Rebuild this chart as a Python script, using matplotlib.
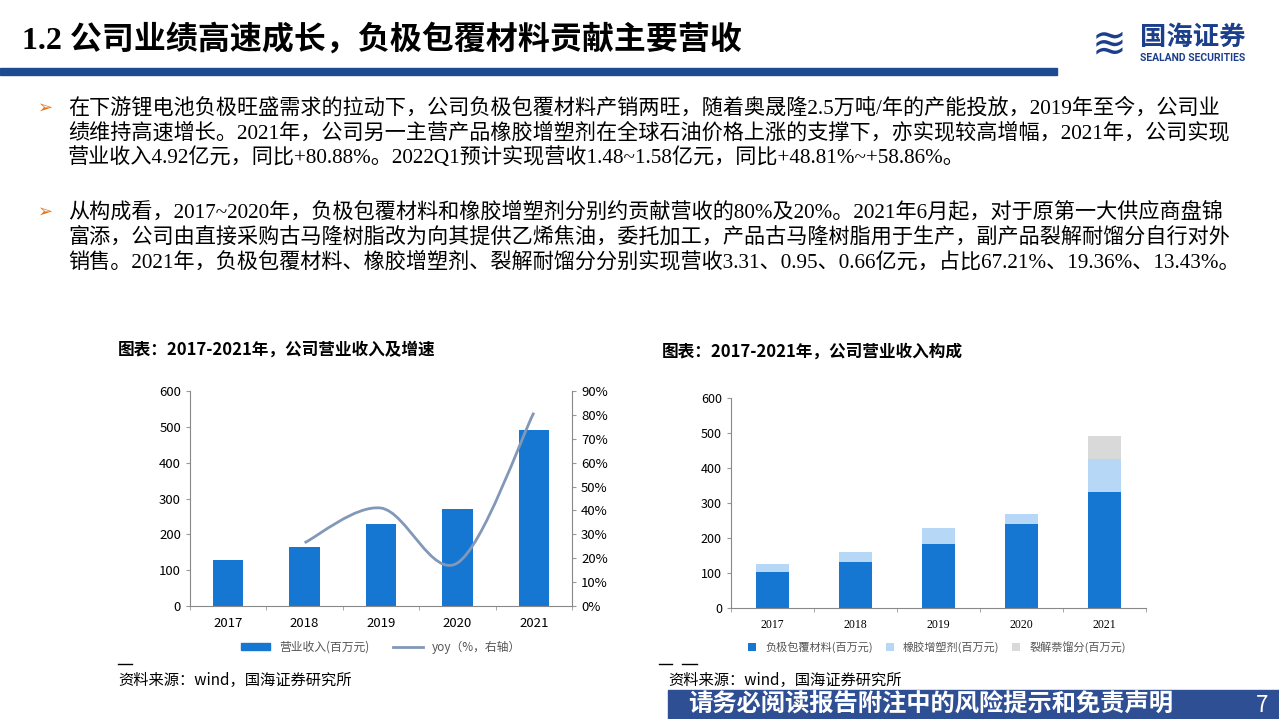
import numpy as np
import matplotlib.pyplot as plt
from matplotlib.path import Path
from matplotlib.patches import PathPatch, Rectangle

plt.rcParams['font.family'] = ['Noto Sans CJK SC', 'DejaVu Sans']

years = ['2017', '2018', '2019', '2020', '2021']
revenue = [129, 164, 230, 272, 492]
yoy_years = [1, 2, 3, 4]
yoy = [26.5, 41.0, 18.0, 80.9]
anode = [104, 132, 183, 240, 331]
rubber = [22, 28, 46, 30, 95]
cracking = [0, 0, 0, 0, 66]

W, H = 1279, 719
fig = plt.figure(figsize=(12.79, 7.19), dpi=100)
navy = '#1c3f8c'
serif_cjk = ['Liberation Serif', 'Noto Sans CJK SC']

def px(x, y):
    return x / W, 1 - y / H

# header
fig.text(*px(22, 40), '1.2 公司业绩高速成长，负极包覆材料贡献主要营收', fontsize=23, fontweight='bold',
         va='center', family=serif_cjk)
fig.add_artist(Rectangle(px(0, 75), 1057 / W, 7 / H, color='#1e4a92', transform=fig.transFigure))
fig.text(*px(1140, 37), '国海证券', fontsize=19, fontweight='bold', color=navy, va='center')
fig.text(*px(1140, 58), 'SEALAND SECURITIES', fontsize=7.5, fontweight='bold', color=navy, va='center',
         family=['Roboto', 'DejaVu Sans'])
fig.text(*px(1092, 44), '≋', fontsize=30, color=navy, va='center', family=['DejaVu Sans'])

para1 = ['在下游锂电池负极旺盛需求的拉动下，公司负极包覆材料产销两旺，随着奥晟隆2.5万吨/年的产能投放，2019年至今，公司业',
         '绩维持高速增长。2021年，公司另一主营产品橡胶增塑剂在全球石油价格上涨的支撑下，亦实现较高增幅，2021年，公司实现',
         '营业收入4.92亿元，同比+80.88%。2022Q1预计实现营收1.48~1.58亿元，同比+48.81%~+58.86%。']
para2 = ['从构成看，2017~2020年，负极包覆材料和橡胶增塑剂分别约贡献营收的80%及20%。2021年6月起，对于原第一大供应商盘锦',
         '富添，公司由直接采购古马隆树脂改为向其提供乙烯焦油，委托加工，产品古马隆树脂用于生产，副产品裂解耐馏分自行对外',
         '销售。2021年，负极包覆材料、橡胶增塑剂、裂解耐馏分分别实现营收3.31、0.95、0.66亿元，占比67.21%、19.36%、13.43%。']
for y0, para in [(108, para1), (212, para2)]:
    fig.text(*px(38, y0), '➢', fontsize=13, color='#e8731a', va='center', family=['DejaVu Sans'])
    for i, line in enumerate(para):
        fig.text(*px(68, y0 + 25 * i), line, fontsize=15.2, va='center', family=serif_cjk)

fig.text(*px(118, 350), '图表：2017-2021年，公司营业收入及增速', fontsize=12, fontweight='bold', va='center')
fig.text(*px(662, 352), '图表：2017-2021年，公司营业收入构成', fontsize=12, fontweight='bold', va='center')

# left chart
ax = fig.add_axes([190 / W, 1 - 606 / H, 382 / W, 215 / H])
x = np.arange(5)
ax.bar(x, revenue, width=0.4, color='#1677d2', label='营业收入(百万元)')
ax.set_ylim(0, 600)
ax.set_xlim(-0.5, 4.5)
ax.set_xticks(x, years)
ax.set_xticks(np.arange(-0.5, 5, 1), minor=True)
ax.tick_params(axis='x', which='major', length=0, labelsize=9.5, pad=8)
ax.tick_params(axis='x', which='minor', length=3, color='#999999')
ax.tick_params(axis='y', labelsize=9.5, length=3, color='#999999')
for s in ['top', 'right']:
    ax.spines[s].set_visible(False)
for s in ['left', 'bottom']:
    ax.spines[s].set_color('#888888')
ax2 = ax.twinx()
ax2.set_ylim(0, 90)
ax2.set_yticks(range(0, 91, 10), [f'{v}%' for v in range(0, 91, 10)])
ax2.tick_params(axis='y', labelsize=9.5, length=3, color='#999999')
for s in ['top', 'left', 'bottom']:
    ax2.spines[s].set_visible(False)
ax2.spines['right'].set_color('#888888')
# smooth line through yoy points (Catmull-Rom as Bezier)
pts = np.column_stack([yoy_years, yoy]).astype(float)
verts = [pts[0]]
codes = [Path.MOVETO]
for i in range(len(pts) - 1):
    p0 = pts[max(i - 1, 0)]
    p1, p2 = pts[i], pts[i + 1]
    p3 = pts[min(i + 2, len(pts) - 1)]
    verts += [p1 + (p2 - p0) / 6, p2 - (p3 - p1) / 6, p2]
    codes += [Path.CURVE4] * 3
ax2.add_patch(PathPatch(Path(verts, codes), fill=False, color='#8298b8', lw=2))
h1 = Rectangle((0, 0), 1, 1, color='#1677d2')
h2 = plt.Line2D([], [], color='#8298b8', lw=2)
fig.legend([h1, h2], ['营业收入(百万元)', 'yoy（%，右轴）'], loc='center', bbox_to_anchor=px(381, 647),
           ncol=2, frameon=False, fontsize=8.5, handlelength=2.5, handleheight=0.5, columnspacing=2,
           labelcolor='#555555')

# right chart
bx = fig.add_axes([731 / W, 1 - 608 / H, 415 / W, 210 / H])
bx.bar(x, anode, width=0.4, color='#1677d2', label='负极包覆材料(百万元)')
bx.bar(x, rubber, width=0.4, bottom=anode, color='#b7d7f7', label='橡胶增塑剂(百万元)')
bx.bar(x, cracking, width=0.4, bottom=np.add(anode, rubber), color='#d9d9d9', label='裂解萘馏分(百万元)')
bx.set_ylim(0, 600)
bx.set_xlim(-0.5, 4.5)
bx.set_xticks(x, years, family=['Liberation Serif'])
bx.set_xticks(np.arange(-0.5, 5, 1), minor=True)
bx.tick_params(axis='x', which='major', length=0, labelsize=8.5, pad=8)
bx.tick_params(axis='x', which='minor', length=3, color='#999999')
bx.tick_params(axis='y', labelsize=9, length=3, color='#999999')
for s in ['top', 'right']:
    bx.spines[s].set_visible(False)
for s in ['left', 'bottom']:
    bx.spines[s].set_color('#888888')
bx.legend(loc='center', bbox_to_anchor=px(937, 647), bbox_transform=fig.transFigure, ncol=3,
          frameon=False, fontsize=8, handlelength=0.7, handleheight=0.7, columnspacing=1.2,
          labelcolor='#555555')

# separators and sources
for x0, x1 in [(118, 132), (659, 672), (682, 697)]:
    fig.add_artist(plt.Line2D([x0 / W, x1 / W], [1 - 664 / H] * 2, color='black', lw=1))
fig.text(*px(118, 680), '资料来源：wind，国海证券研究所', fontsize=11, style='italic', va='center')
fig.text(*px(668, 680), '资料来源：wind，国海证券研究所', fontsize=11, style='italic', va='center')

# footer
fig.add_artist(Rectangle(px(668, 719), (W - 668) / W, 29 / H, color='#2f4f95', transform=fig.transFigure))
fig.text(*px(688, 705), '请务必阅读报告附注中的风险提示和免责声明', fontsize=17.5, fontweight='bold',
         style='italic', color='white', va='center')
fig.text(*px(1262, 705), '7', fontsize=16, color='white', va='center', ha='center')

fig.savefig('out.png', dpi=100)
